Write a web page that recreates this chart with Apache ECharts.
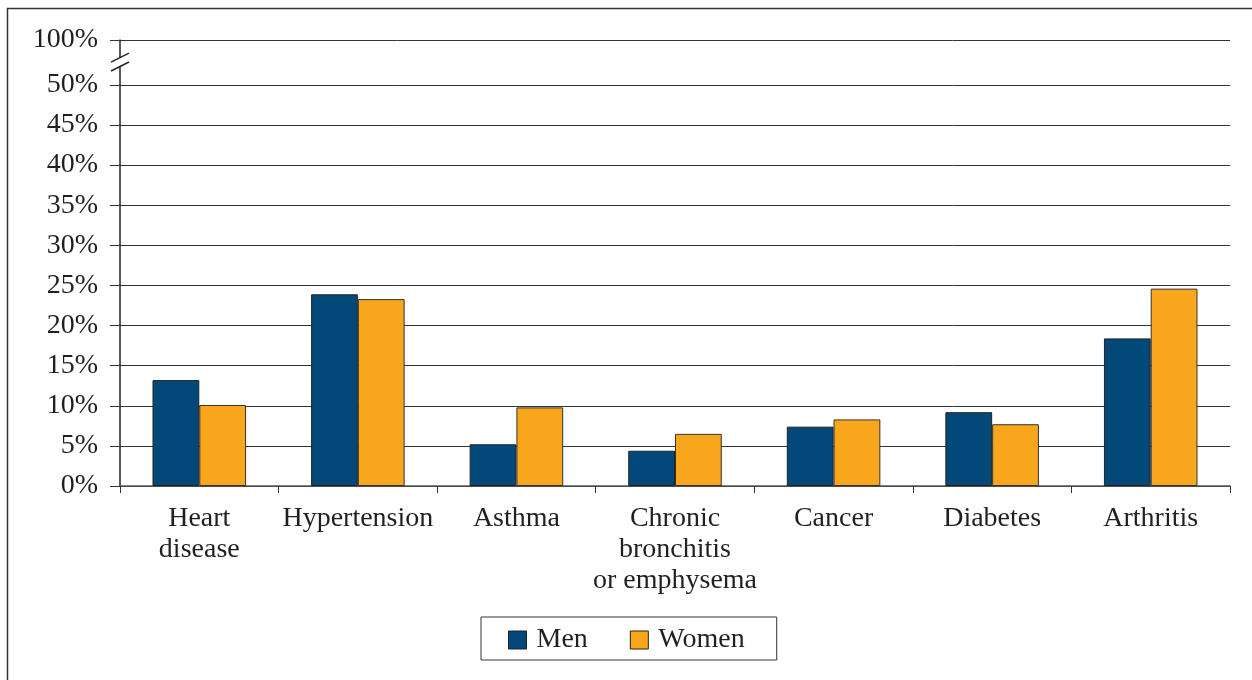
<!DOCTYPE html>
<html>
<head>
<meta charset="utf-8">
<script src="https://cdn.jsdelivr.net/npm/echarts@6/dist/echarts.min.js"></script>
<style>
html,body{margin:0;padding:0;background:#fff;}
#chart{width:1252px;height:680px;}
</style>
</head>
<body>
<div id="chart"></div>
<script>
var categories = ['Heart\ndisease', 'Hypertension', 'Asthma', 'Chronic\nbronchitis\nor emphysema', 'Cancer', 'Diabetes', 'Arthritis'];
var menValues = [13.2, 23.9, 5.2, 4.4, 7.4, 9.2, 18.4];
var womenValues = [10.1, 23.3, 9.8, 6.5, 8.3, 7.7, 24.6];
var tickValues = [0, 5, 10, 15, 20, 25, 30, 35, 40, 45, 50];
var breakTop = 55.6; // axis position drawn as the 100% line (broken axis)
var topLabel = '100%';

var FONT = '"Liberation Serif", "DejaVu Serif", serif';
var TXT = '#231f20';

var chart = echarts.init(document.getElementById('chart'));
var yTicks = tickValues.concat([breakTop]);

chart.setOption({
  animation: false,
  grid: { left: 120, right: 22, top: 40, bottom: 194, containLabel: false },
  legend: {
    data: ['Men', 'Women'],
    left: 481,
    top: 617,
    padding: [9, 32, 6, 27],
    itemGap: 42,
    itemWidth: 18,
    itemHeight: 18,
    borderColor: '#333',
    borderWidth: 1,
    icon: 'rect',
    itemStyle: { borderColor: '#222', borderWidth: 1 },
    textStyle: { fontFamily: FONT, fontSize: 28, color: TXT, padding: [0, 0, 0, 5] }
  },
  xAxis: {
    type: 'category',
    data: categories,
    axisLine: { lineStyle: { color: '#555', width: 1.5 } },
    axisTick: { show: true, length: 7, lineStyle: { color: '#333' } },
    axisLabel: { fontFamily: FONT, fontSize: 28, color: TXT, lineHeight: 31, margin: 17, interval: 0 }
  },
  yAxis: {
    type: 'value',
    min: 0,
    max: breakTop,
    axisLine: { show: true, lineStyle: { color: '#222', width: 1.5 } },
    axisTick: { show: true, length: 10, customValues: yTicks, lineStyle: { color: '#333' } },
    splitLine: { show: true, lineStyle: { color: '#333', width: 1 } },
    axisLabel: {
      customValues: yTicks,
      fontFamily: FONT, fontSize: 28, color: TXT, margin: 22,
      formatter: function (v) { return v === breakTop ? topLabel : v + '%'; }
    }
  },
  series: [
    {
      name: 'Men', type: 'bar', data: menValues,
      barGap: '0%', barCategoryGap: '41%',
      itemStyle: { color: '#02497a', borderColor: '#222', borderWidth: 1 }
    },
    {
      name: 'Women', type: 'bar', data: womenValues,
      barGap: '0%', barCategoryGap: '41%',
      itemStyle: { color: '#f8a61c', borderColor: '#333', borderWidth: 1 }
    }
  ]
});

// frame and axis break marks
var p1 = chart.convertToPixel({ gridIndex: 0 }, [0, 53.4]);
var p2 = chart.convertToPixel({ gridIndex: 0 }, [0, 52.3]);
var axisX = chart.getModel().getComponent('grid').coordinateSystem.getRect().x;
var dx = 9, dy = 4.5;
chart.setOption({
  graphic: [
    { type: 'rect', shape: { x: 7.5, y: 8.5, width: 1400, height: 800 }, style: { fill: null, stroke: '#333', lineWidth: 1.5 }, silent: true, z: 0 },
    { type: 'polygon', shape: { points: [[axisX - dx, p1[1] + dy], [axisX + dx, p1[1] - dy], [axisX + dx, p2[1] - dy], [axisX - dx, p2[1] + dy]] }, style: { fill: '#fff' }, z: 10 },
    { type: 'line', shape: { x1: axisX - dx, y1: p1[1] + dy, x2: axisX + dx, y2: p1[1] - dy }, style: { stroke: '#222', lineWidth: 1.5 }, z: 11 },
    { type: 'line', shape: { x1: axisX - dx, y1: p2[1] + dy, x2: axisX + dx, y2: p2[1] - dy }, style: { stroke: '#222', lineWidth: 1.5 }, z: 11 }
  ]
});
</script>
</body>
</html>
